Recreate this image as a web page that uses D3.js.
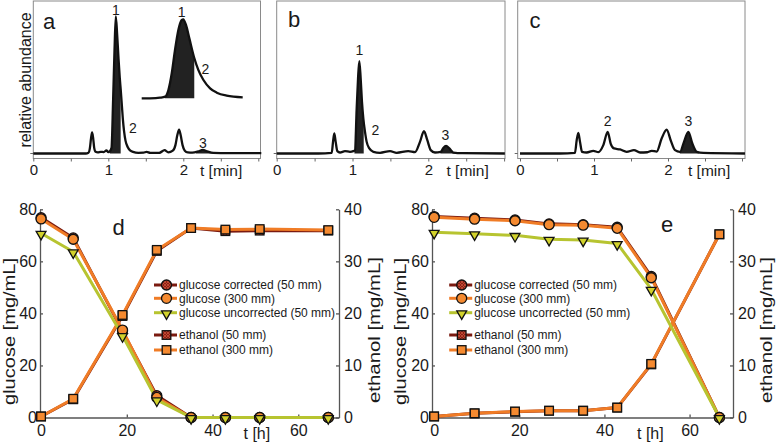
<!DOCTYPE html>
<html><head><meta charset="utf-8">
<script src="https://cdn.jsdelivr.net/npm/d3@7"></script>
<style>body{margin:0;background:#fff} text{font-family:"Liberation Sans",Arial,sans-serif;fill:#1a1a1a}</style>
</head><body>
<svg id="c" width="778" height="447"></svg>
<script>
// ---------- chromatogram data (t [min], relative abundance) ----------
const chromA = [[0,0],[0.70,0],[0.735,0.5],[0.755,4],[0.770,11],[0.784,15],[0.798,11],[0.812,4],[0.83,1.2],[0.86,0.8],[0.90,1.2],[0.94,1.0],[0.975,2.2],[1.0,1.0],[1.02,1.5],[1.043,4],[1.064,38],[1.083,74],[1.10,98],[1.118,85],[1.136,68],[1.153,54],[1.165,46],[1.18,35],[1.195,24],[1.21,16],[1.23,9],[1.26,4.5],[1.29,2.2],[1.33,1.2],[1.40,0.5],[1.47,0.6],[1.51,1.2],[1.56,0.4],[1.68,0.5],[1.75,2.4],[1.80,0.8],[1.86,2],[1.895,6],[1.92,13],[1.944,17],[1.965,13],[1.99,6],[2.02,2],[2.06,0.8],[2.12,0.6],[2.20,1.5],[2.26,2.6],[2.32,1.5],[2.40,0.4],[2.6,0.2],[3.04,0.2]];
const insetA = [[0.872,0],[0.95,0.3],[0.974,0.8],[1.002,2],[1.02,10],[1.039,31],[1.057,60],[1.076,85],[1.094,97],[1.103,98],[1.118,91],[1.137,74],[1.164,50],[1.187,35],[1.214,23],[1.252,12.4],[1.289,7],[1.344,3.3],[1.433,1.2]];
const chromB = [[0,0],[0.55,0],[0.726,0.5],[0.743,8.3],[0.760,14.3],[0.778,8.3],[0.80,1.7],[0.835,0.7],[0.901,1.7],[0.967,1.2],[1.011,1.7],[1.033,2.4],[1.055,32],[1.073,53.6],[1.090,66],[1.108,53.6],[1.125,37],[1.143,25],[1.165,15.5],[1.187,8.3],[1.222,3.6],[1.275,1.2],[1.363,0.5],[1.495,1.7],[1.583,0.5],[1.736,1.7],[1.825,1.0],[1.89,8.3],[1.943,16],[1.987,9.5],[2.032,2.4],[2.088,0.7],[2.164,1.2],[2.198,4],[2.234,5.5],[2.278,3.6],[2.33,0.7],[2.45,0.2],[3.01,0]];
const chromC = [[0,0],[0.54,0],[0.743,0.5],[0.766,9.5],[0.788,14.8],[0.811,8.3],[0.838,1.2],[0.901,0.7],[0.991,1.9],[1.059,1.0],[1.126,6],[1.185,15.5],[1.225,7.1],[1.27,3.6],[1.351,2.9],[1.441,1.2],[1.54,2.4],[1.622,0.7],[1.72,0.9],[1.779,1.9],[1.847,1.4],[1.914,10.7],[1.982,17.1],[2.036,9.5],[2.095,2.4],[2.162,1.2],[2.216,8.3],[2.275,15.5],[2.329,7.1],[2.388,1.2],[2.477,0.4],[3.04,0]];
const fillsA = [[1.02,1.165],[2.17,2.40]];
const fillInset = [1.0,1.164];
const fillsB = [[1.025,1.148],[2.16,2.36]];
const fillsC = [[2.16,2.42]];
const chromTicks = [0,0.5,1,1.5,2,2.5,3];
const chromTickLabels = [0,1,2];

// ---------- fermentation data ----------
const timeD = [0, 7.5, 19, 27, 35, 43, 51, 67];
const glucCorrD = [76.8, 69.0, 33.2, 8.4, 0, 0, 0, 0];
const gluc300D  = [76.3, 68.5, 33.6, 7.7, 0, 0, 0, 0];
const glucUncD  = [70.8, 63.7, 31.5, 6.8, 0, 0, 0, 0];
const eth50D    = [0.2, 3.5, 19.5, 32.0, 36.4, 35.8, 35.9, 35.9];
const eth300D   = [0.2, 3.6, 19.7, 32.2, 36.4, 36.1, 36.2, 36.0];

const timeE = [0, 9.5, 19, 27, 35, 43, 51, 67];
const glucCorrE = [77.2, 76.6, 75.9, 74.4, 74.1, 73.1, 54.2, 0];
const gluc300E  = [76.9, 76.2, 75.6, 74.1, 73.9, 72.7, 53.7, 0];
const glucUncE  = [71.2, 70.6, 70.0, 68.5, 68.2, 66.9, 49.3, 0];
const eth50E    = [0.2, 0.8, 1.1, 1.3, 1.3, 1.9, 10.2, 35.2];
const eth300E   = [0.2, 0.8, 1.15, 1.3, 1.3, 1.9, 10.3, 35.2];

const legendLabels = ["glucose corrected (50 mm)","glucose (300 mm)","glucose uncorrected (50 mm)","ethanol (50 mm)","ethanol (300 mm)"];
const glucoseTicks = [0,20,40,60,80];
const ethanolTicks = [0,10,20,30,40];
const timeTicks = [0,20,40,60];

// ---------- styles ----------
const DARK = "#7a1a10", ORANGE = "#f07c26", ORANGE_F = "#f58a30", GREEN = "#b7c430", GREEN_F = "#d2d22c";
const FONT = '"Liberation Sans",Arial,sans-serif';

const svg = d3.select("#c");
const defs = svg.append("defs");
const pat = defs.append("pattern").attr("id","hatch").attr("patternUnits","userSpaceOnUse").attr("width",3).attr("height",3);
pat.append("rect").attr("width",3).attr("height",3).attr("fill","#8e2014");
pat.append("path").attr("d","M0,0L3,3M3,0L0,3").attr("stroke","#c8503a").attr("stroke-width",0.8);

// ---------- chromatogram panels ----------
let clipN = 0;
function chromPanel(cfg){
  const g = svg.append("g");
  const x = d3.scaleLinear().domain([0, cfg.tmax]).range([cfg.zero, cfg.zero + cfg.tmax*cfg.ppm]);
  const y = d3.scaleLinear().domain([0,100]).range([153.5, 13.5]);
  g.append("rect").attr("x",cfg.left).attr("y",1).attr("width",cfg.right-cfg.left).attr("height",157.5)
    .attr("fill","none").attr("stroke","#8a8a8a").attr("stroke-width",1);
  const ax = g.append("g").attr("transform","translate(0,158.5)")
    .call(d3.axisBottom(x).tickValues(chromTicks).tickSize(3).tickPadding(3)
      .tickFormat(d => chromTickLabels.includes(d) ? d : ""));
  ax.select(".domain").remove();
  ax.selectAll("line").attr("stroke","#666");
  ax.selectAll("text").attr("font-size",15).attr("font-family",FONT).attr("fill","#1a1a1a");
  g.append("line").attr("x1",cfg.left-3).attr("x2",cfg.left).attr("y1",y(0)).attr("y2",y(0)).attr("stroke","#666");
  g.append("text").attr("x",cfg.tlab).attr("y",176).attr("font-size",15.5).text("t [min]");
  const area = d3.area().x(d=>x(d[0])).y0(y(0)).y1(d=>y(d[1])).curve(d3.curveMonotoneX);
  const line = d3.line().x(d=>x(d[0])).y(d=>y(d[1])).curve(d3.curveMonotoneX);
  cfg.fills.forEach(f=>{
    const id = "cl"+(clipN++);
    defs.append("clipPath").attr("id",id).append("rect").attr("x",x(f[0])).attr("width",x(f[1])-x(f[0])).attr("y",0).attr("height",160);
    g.append("path").datum(cfg.data).attr("d",area).attr("fill","#222").attr("clip-path",`url(#${id})`);
  });
  g.append("path").datum(cfg.data).attr("d",line).attr("fill","none").attr("stroke","#111").attr("stroke-width",2.3);
  g.append("text").attr("x",cfg.letter[0]).attr("y",cfg.letter[1]).attr("font-size",22).text(cfg.letter[2]);
  cfg.labels.forEach(l=> g.append("text").attr("x",l[0]).attr("y",l[1]).attr("text-anchor","middle").attr("font-size",14).text(l[2]));
  return {g,x,y};
}

chromPanel({left:33.3,right:260.5,zero:33.3,ppm:75,tmax:3.03,data:chromA,fills:fillsA,tlab:200,
  letter:[43,28.5,"a"],labels:[[116,15,"1"],[133,133,"2"],[203,148,"3"]]});
chromPanel({left:276.7,right:505,zero:276.7,ppm:75.8,tmax:3.01,data:chromB,fills:fillsB,tlab:446.5,
  letter:[288,27,"b"],labels:[[359.5,55,"1"],[375.5,135,"2"],[445.5,140,"3"]]});
chromPanel({left:517.7,right:745,zero:520,ppm:74,tmax:3.04,data:chromC,fills:fillsC,tlab:688,
  letter:[529.5,27.5,"c"],labels:[[607.7,126,"2"],[688.3,126,"3"]]});

// inset of panel a
{
  const xi = d3.scaleLinear().domain([0.872,1.433]).range([141.7,242.7]);
  const yi = d3.scaleLinear().domain([0,98]).range([98.3,19.3]);
  const area = d3.area().x(d=>xi(d[0])).y0(yi(0)).y1(d=>yi(d[1])).curve(d3.curveMonotoneX);
  const line = d3.line().x(d=>xi(d[0])).y(d=>yi(d[1])).curve(d3.curveMonotoneX);
  defs.append("clipPath").attr("id","clinset").append("rect").attr("x",xi(fillInset[0])).attr("width",xi(fillInset[1])-xi(fillInset[0])).attr("y",0).attr("height",100);
  svg.append("path").datum(insetA).attr("d",area).attr("fill","#222").attr("clip-path","url(#clinset)");
  svg.append("path").datum(insetA).attr("d",line).attr("fill","none").attr("stroke","#111").attr("stroke-width",2.3);
  svg.append("text").attr("x",181.7).attr("y",16.5).attr("text-anchor","middle").attr("font-size",14).text("1");
  svg.append("text").attr("x",205.5).attr("y",73.5).attr("text-anchor","middle").attr("font-size",14).text("2");
}
svg.append("text").attr("transform","translate(31,80) rotate(-90)").attr("text-anchor","middle").attr("font-size",16).text("relative abundance");

// ---------- fermentation panels ----------
function kinPanel(cfg){
  const g = svg.append("g");
  const x = d3.scaleLinear().domain(cfg.xdom).range([cfg.x0, cfg.x1]);
  const yL = d3.scaleLinear().domain([0,80]).range([417.5,209.3]);
  const yR = d3.scaleLinear().domain([0,40]).range([417.5,209.3]);
  const style = a => { a.selectAll("path,line").attr("stroke","#555").attr("stroke-width",1.3);
    a.selectAll("text").attr("font-size",16).attr("font-family",FONT).attr("fill","#1a1a1a"); };
  g.append("g").attr("transform",`translate(${cfg.x0},0)`).call(d3.axisLeft(yL).tickValues(glucoseTicks).tickSize(-3).tickSizeOuter(0).tickPadding(3)).call(style);
  g.append("g").attr("transform",`translate(${cfg.x1},0)`).call(d3.axisRight(yR).tickValues(ethanolTicks).tickSize(-3).tickSizeOuter(0).tickPadding(5)).call(style);
  g.append("g").attr("transform","translate(0,417.5)").call(d3.axisBottom(x).tickValues(timeTicks).tickSize(-3).tickSizeOuter(0).tickPadding(7)).call(style);

  g.append("text").attr("x",cfg.tlab).attr("y",439).attr("font-size",16).text("t [h]");
  g.append("text").attr("transform",`translate(${cfg.lt},331.5) rotate(-90)`).attr("text-anchor","middle")
    .attr("font-size",17).attr("textLength",147).attr("lengthAdjust","spacingAndGlyphs").text("glucose [mg/mL]");
  g.append("text").attr("transform",`translate(${cfg.rt},330) rotate(-90)`).attr("text-anchor","middle")
    .attr("font-size",17).attr("textLength",146).attr("lengthAdjust","spacingAndGlyphs").text("ethanol [mg/mL]");
  g.append("text").attr("x",cfg.letter[0]).attr("y",cfg.letter[1]).attr("font-size",22).text(cfg.letter[2]);

  const t = cfg.time;
  const pts = (vals) => vals.map((v,i)=>[t[i],v]);
  const lineL = d3.line().x(d=>x(d[0])).y(d=>yL(d[1]));
  const lineR = d3.line().x(d=>x(d[0])).y(d=>yR(d[1]));
  const drawLine = (data, ln, col) => g.append("path").datum(data).attr("d",ln).attr("fill","none").attr("stroke",col).attr("stroke-width",3).attr("stroke-linejoin","round");
  drawLine(pts(cfg.gc), lineL, DARK);
  drawLine(pts(cfg.e50), lineR, DARK);
  drawLine(pts(cfg.g3), lineL, ORANGE);
  drawLine(pts(cfg.e3), lineR, ORANGE);
  drawLine(pts(cfg.gu), lineL, GREEN);

  const circ = (data, fill) => g.selectAll(null).data(data).enter().append("circle")
    .attr("cx",d=>x(d[0])).attr("cy",d=>yL(d[1])).attr("r",5).attr("fill",fill).attr("stroke","#111").attr("stroke-width",1.3);
  const sq = (data, fill) => g.selectAll(null).data(data).enter().append("rect")
    .attr("x",d=>x(d[0])-4.3).attr("y",d=>yR(d[1])-4.3).attr("width",8.6).attr("height",8.6).attr("fill",fill).attr("stroke","#111").attr("stroke-width",1.3);
  const tri = d3.symbol().type(d3.symbolTriangle).size(42);
  const tris = (data) => g.selectAll(null).data(data).enter().append("path").attr("d",tri)
    .attr("transform",d=>`translate(${x(d[0])},${yL(d[1])+1}) rotate(180)`).attr("fill",GREEN_F).attr("stroke","#111").attr("stroke-width",1.3);
  circ(pts(cfg.gc), "url(#hatch)");
  sq(pts(cfg.e50), "url(#hatch)");
  circ(pts(cfg.g3), ORANGE_F);
  tris(pts(cfg.gu));
  sq(pts(cfg.e3), ORANGE_F);

  // legend
  const rows = [285, 298.3, 312.7, 335, 350];
  const mx = cfg.legX;
  const kinds = [["c",DARK,"url(#hatch)"],["c",ORANGE,ORANGE_F],["t",GREEN,GREEN_F],["s",DARK,"url(#hatch)"],["s",ORANGE,ORANGE_F]];
  rows.forEach((ry,i)=>{
    const [k,lc,fc] = kinds[i];
    g.append("line").attr("x1",mx-12.5).attr("x2",mx+10.5).attr("y1",ry).attr("y2",ry).attr("stroke",lc).attr("stroke-width",3);
    if(k==="c") g.append("circle").attr("cx",mx).attr("cy",ry).attr("r",5).attr("fill",fc).attr("stroke","#111").attr("stroke-width",1.3);
    if(k==="s") g.append("rect").attr("x",mx-4.3).attr("y",ry-4.3).attr("width",8.6).attr("height",8.6).attr("fill",fc).attr("stroke","#111").attr("stroke-width",1.3);
    if(k==="t") g.append("path").attr("d",tri).attr("transform",`translate(${mx},${ry+1}) rotate(180)`).attr("fill",fc).attr("stroke","#111").attr("stroke-width",1.3);
    g.append("text").attr("x",mx+12.5).attr("y",ry).attr("dy","0.35em").attr("font-size",12).text(legendLabels[i]);
  });
}

kinPanel({xdom:[-0.25,69.5],x0:40,x1:339,time:timeD,gc:glucCorrD,g3:gluc300D,gu:glucUncD,e50:eth50D,e3:eth300D,
  tlab:243.5,lt:15,rt:379.5,letter:[112.5,235,"d"],legX:166.5});
kinPanel({xdom:[-0.5,70.2],x0:432,x1:733,time:timeE,gc:glucCorrE,g3:gluc300E,gu:glucUncE,e50:eth50E,e3:eth300E,
  tlab:637,lt:406,rt:772,letter:[661,232,"e"],legX:461.7});
</script>
</body></html>
